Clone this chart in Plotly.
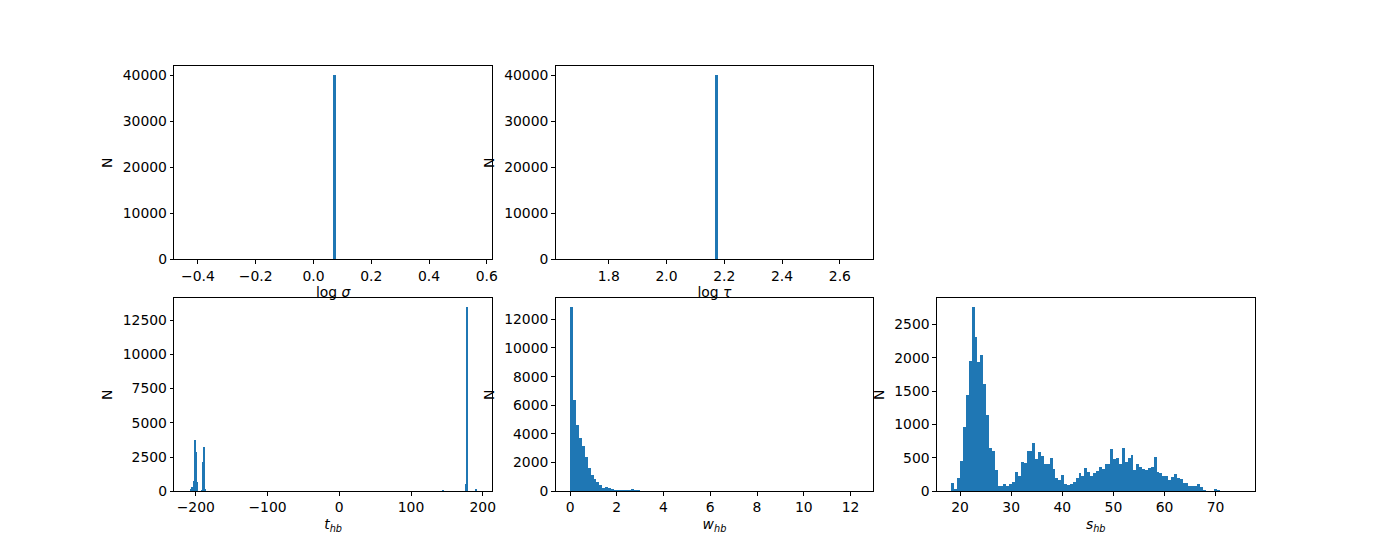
import numpy as np
import plotly.graph_objects as go

# ---------------- data ----------------
sigma_value = 0.068
sigma_nbins = 100
sigma_bin_index = [50]
sigma_counts = [40000]

tau_value = 2.166
tau_nbins = 100
tau_bin_index = [50]
tau_counts = [40000]

t_min, t_max, t_nbins = -209.8, 192.7, 300
t_bin_index = [0, 2, 3, 4, 5, 6, 7, 8, 14, 15, 16, 17, 264, 288, 289, 298, 299]
t_counts = [5, 170, 312, 200, 745, 3750, 2836, 673, 120, 2115, 3196, 170, 70, 553, 13430, 170, 3]

w_min, w_max = 0.0, 12.36
w_counts = [
    12840, 6362, 4640, 3744, 3124, 2366, 1608, 1125, 850, 643,
    436, 230, 300, 230, 160, 92, 46, 92, 92, 92,
    46, 160, 92, 92, 10, 5, 0, 0, 0, 0,
    0, 0, 0, 0, 0, 0, 0, 0, 0, 0,
    0, 0, 0, 0, 0, 0, 0, 0, 0, 0,
    0, 0, 0, 0, 0, 0, 0, 0, 0, 0,
    0, 0, 0, 0, 0, 0, 0, 0, 0, 0,
    0, 0, 0, 0, 0, 0, 0, 0, 0, 0,
    0, 0, 0, 0, 0, 0, 0, 0, 0, 0,
    0, 0, 0, 0, 0, 0, 0, 0, 0, 1,
]

s_min, s_max = 18.28, 74.8
s_counts = [
    123, 35, 197, 449, 966, 1444, 1957, 2756, 2312, 1928,
    2046, 1607, 1144, 641, 597, 311, 84, 84, 113, 84,
    108, 138, 286, 232, 434, 420, 597, 597, 715, 483,
    582, 523, 404, 404, 493, 330, 197, 168, 242, 108,
    94, 108, 138, 197, 271, 227, 345, 286, 227, 271,
    300, 360, 330, 404, 404, 626, 483, 493, 404, 641,
    434, 493, 537, 315, 404, 360, 330, 315, 345, 360,
    508, 286, 271, 227, 227, 168, 212, 256, 197, 182,
    123, 123, 79, 79, 79, 108, 64, 20, 0, 0,
    0, 35, 15, 0, 0, 0, 0, 0, 0, 2,
]

# tick labels
sigma_xticks = [-0.4, -0.2, 0.0, 0.2, 0.4, 0.6]
sigma_xticktext = ["\u22120.4", "\u22120.2", "0.0", "0.2", "0.4", "0.6"]
tau_xticks = [1.8, 2.0, 2.2, 2.4, 2.6]
tau_xticktext = ["1.8", "2.0", "2.2", "2.4", "2.6"]
top_yticks = [0, 10000, 20000, 30000, 40000]
t_xticks = [-200, -100, 0, 100, 200]
t_xticktext = ["\u2212200", "\u2212100", "0", "100", "200"]
t_yticks = [0, 2500, 5000, 7500, 10000, 12500]
w_xticks = [0, 2, 4, 6, 8, 10, 12]
w_yticks = [0, 2000, 4000, 6000, 8000, 10000, 12000]
s_xticks = [20, 30, 40, 50, 60, 70]
s_yticks = [0, 500, 1000, 1500, 2000, 2500]

BAR = "#1f77b4"
FONT = "DejaVu Sans"
FS = 13.9

fig = go.Figure()


def edges_of(lo, hi, n):
    return np.linspace(lo, hi, n + 1)


def add_bars(edges, idx, counts, xa, ya):
    idx = np.asarray(idx)
    centers = 0.5 * (edges[idx] + edges[idx + 1])
    widths = edges[idx + 1] - edges[idx]
    fig.add_trace(go.Bar(
        x=centers, y=counts, width=widths,
        marker=dict(color=BAR, line=dict(width=0)),
        xaxis=xa, yaxis=ya, showlegend=False,
    ))


sig_edges = edges_of(sigma_value - 0.5, sigma_value + 0.5, sigma_nbins)
tau_edges = edges_of(tau_value - 0.5, tau_value + 0.5, tau_nbins)
t_edges = edges_of(t_min, t_max, t_nbins)
w_edges = edges_of(w_min, w_max, len(w_counts))
s_edges = edges_of(s_min, s_max, len(s_counts))

add_bars(sig_edges, sigma_bin_index, sigma_counts, "x", "y")
add_bars(tau_edges, tau_bin_index, tau_counts, "x2", "y2")
add_bars(t_edges, t_bin_index, t_counts, "x3", "y3")
add_bars(w_edges, list(range(len(w_counts))), w_counts, "x4", "y4")
add_bars(s_edges, list(range(len(s_counts))), s_counts, "x5", "y5")


def xr(edges):
    span = edges[-1] - edges[0]
    return [edges[0] - 0.05 * span, edges[-1] + 0.05 * span]


def yr(counts):
    return [0, 1.05 * max(counts)]


W, H = 1400, 560
cols = [(175.0, 494.1), (558.0, 877.1), (940.9, 1260.0)]
rows = [(67.2, 263.2), (302.4, 498.4)]


def dom_x(c):
    return [cols[c][0] / W, cols[c][1] / W]


def dom_y(r):
    return [1 - rows[r][1] / H, 1 - rows[r][0] / H]


def axis(domain, anchor, rng, tickvals, ticktext, title, is_y=False):
    return dict(
        domain=domain, anchor=anchor, range=rng,
        tickmode="array", tickvals=tickvals, ticktext=ticktext,
        showline=True, mirror=True, linecolor="black", linewidth=1,
        ticks="outside", ticklen=3.5, tickwidth=0.8, tickcolor="black",
        showgrid=False, zeroline=False,
        tickfont=dict(family=FONT, size=FS, color="black"),
        fixedrange=True,
        title=dict(text=title, font=dict(family=FONT, size=FS, color="black"),
                   standoff=6 if is_y else 4),
    )


def labels(vals):
    return [str(v) for v in vals]


fig.update_layout(
    width=W, height=H, autosize=False,
    margin=dict(l=0, r=0, t=0, b=0),
    paper_bgcolor="white", plot_bgcolor="white",
    bargap=0, barmode="overlay",
    font=dict(family=FONT, size=FS, color="black"),
    xaxis=axis(dom_x(0), "y", xr(sig_edges), sigma_xticks, sigma_xticktext, "log <i>σ</i>"),
    yaxis=axis(dom_y(0), "x", yr(sigma_counts), top_yticks, labels(top_yticks), "N", True),
    xaxis2=axis(dom_x(1), "y2", xr(tau_edges), tau_xticks, tau_xticktext, "log <i>τ</i>"),
    yaxis2=axis(dom_y(0), "x2", yr(tau_counts), top_yticks, labels(top_yticks), "N", True),
    xaxis3=axis(dom_x(0), "y3", xr(t_edges), t_xticks, t_xticktext, "<i>t</i><sub><i>hb</i></sub>"),
    yaxis3=axis(dom_y(1), "x3", yr(t_counts), t_yticks, labels(t_yticks), "N", True),
    xaxis4=axis(dom_x(1), "y4", xr(w_edges), w_xticks, labels(w_xticks), "<i>w</i><sub><i>hb</i></sub>"),
    yaxis4=axis(dom_y(1), "x4", yr(w_counts), w_yticks, labels(w_yticks), "N", True),
    xaxis5=axis(dom_x(2), "y5", xr(s_edges), s_xticks, labels(s_xticks), "<i>s</i><sub><i>hb</i></sub>"),
    yaxis5=axis(dom_y(1), "x5", yr(s_counts), s_yticks, labels(s_yticks), "N", True),
)

# remove the default 8px body margin so the 1400x560 figure fills the page exactly
fig.write_html(
    "out.html",
    config={"displayModeBar": False},
    post_script="document.body.style.margin='0px';",
)
